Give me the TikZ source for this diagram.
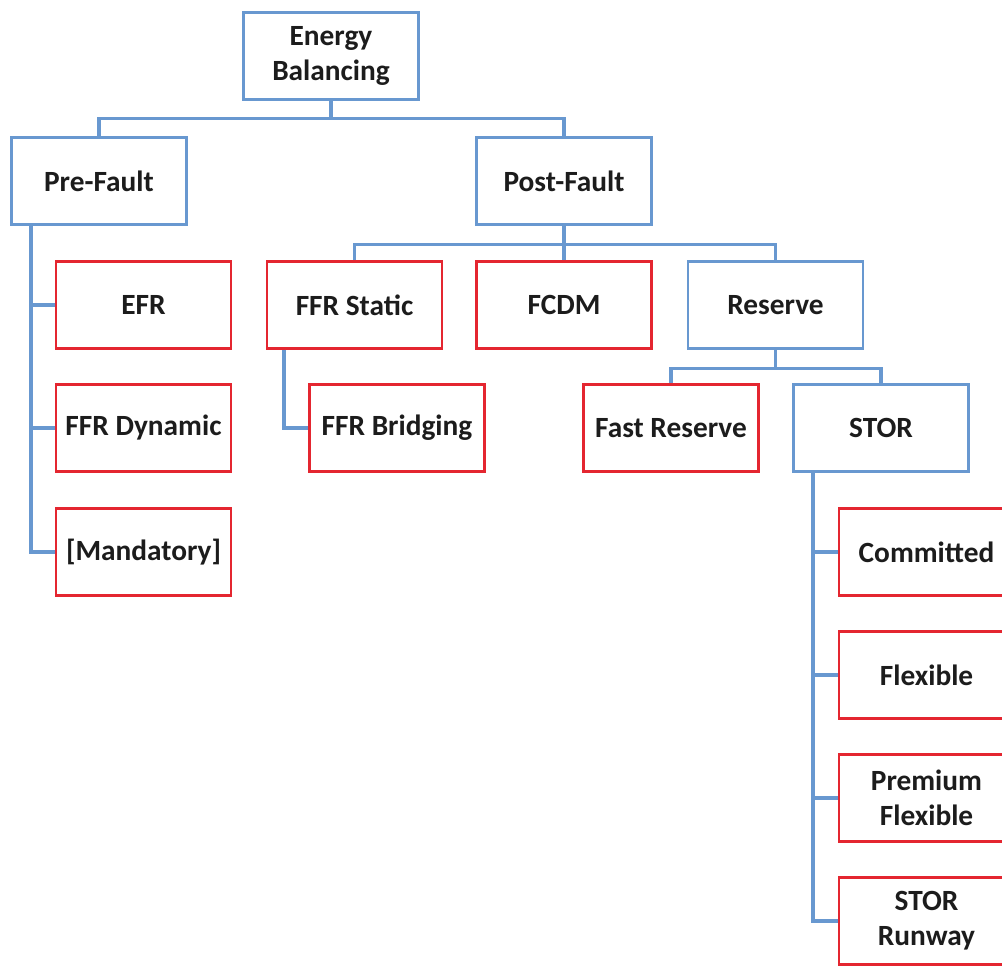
\documentclass[tikz,border=0pt]{standalone}
\usepackage{fontspec}
\setmainfont{Carlito}
\begin{document}
\definecolor{lineblue}{RGB}{104,152,208}
\definecolor{boxred}{RGB}{228,38,48}
\definecolor{ink}{RGB}{28,28,28}
\begin{tikzpicture}[x=0.75pt,y=-0.75pt,
  box/.style={rectangle, minimum width=131.25pt, minimum height=65.25pt,
    inner sep=0pt, align=center, line width=1.7pt, fill=white,
    font=\fontsize{22}{26.5}\selectfont\bfseries, text=ink},
  bluebox/.style={box, draw=lineblue},
  redbox/.style={box, draw=boxred},
  conn/.style={draw=lineblue, line width=2.4pt}]
\useasboundingbox (0,0) rectangle (1002,965);
\clip (0,0) rectangle (1002,965);

% x positions of the vertical side rails
\coordinate (preX) at (31,0);
\coordinate (ffrX) at (284,0);
\coordinate (storX) at (813,0);

% boxes
\node[bluebox] (eb)   at (331,56)    {Energy\\Balancing};
\node[bluebox] (pre)  at (99,181)    {Pre-Fault};
\node[bluebox] (post) at (564,181)   {Post-Fault};
\node[redbox]  (efr)  at (143.5,305) {EFR};
\node[redbox]  (ffrd) at (143.5,428) {FFR Dynamic};
\node[redbox]  (mand) at (143.5,552) {[Mandatory]};
\node[redbox]  (ffrs) at (354.5,305) {FFR Static};
\node[redbox]  (fcdm) at (564,305)   {FCDM};
\node[bluebox] (res)  at (775.5,305) {Reserve};
\node[redbox]  (ffrb) at (397,428)   {FFR Bridging};
\node[redbox]  (fast) at (671,428)   {Fast Reserve};
\node[bluebox] (stor) at (881,428)   {STOR};
\node[redbox]  (com)  at (926.5,552) {Committed};
\node[redbox]  (flex) at (926.5,675) {Flexible};
\node[redbox]  (prem) at (926.5,798) {Premium\\Flexible};
\node[redbox]  (run)  at (926.5,921) {STOR\\Runway};

% top level
\draw[conn] (eb.south) -- ++(0,18) -| (pre.north);
\draw[conn] (eb.south) ++(0,18) -| (post.north);

% pre-fault branch
\draw[conn] (pre.south -| preX) |- (mand.west);
\draw[conn] (preX |- efr.west) -- (efr.west);
\draw[conn] (preX |- ffrd.west) -- (ffrd.west);

% post-fault branch
\draw[conn] (post.south) -- ++(0,19) -| (ffrs.north);
\draw[conn] (post.south) ++(0,19) -| (res.north);
\draw[conn] (post.south) -- (fcdm.north);

% ffr static to bridging
\draw[conn] (ffrs.south -| ffrX) |- (ffrb.west);

% reserve branch
\draw[conn] (res.south) -- ++(0,18.5) -| (fast.north);
\draw[conn] (res.south) ++(0,18.5) -| (stor.north);

% stor branch
\draw[conn] (stor.south -| storX) |- (run.west);
\draw[conn] (storX |- com.west) -- (com.west);
\draw[conn] (storX |- flex.west) -- (flex.west);
\draw[conn] (storX |- prem.west) -- (prem.west);
\end{tikzpicture}
\end{document}
